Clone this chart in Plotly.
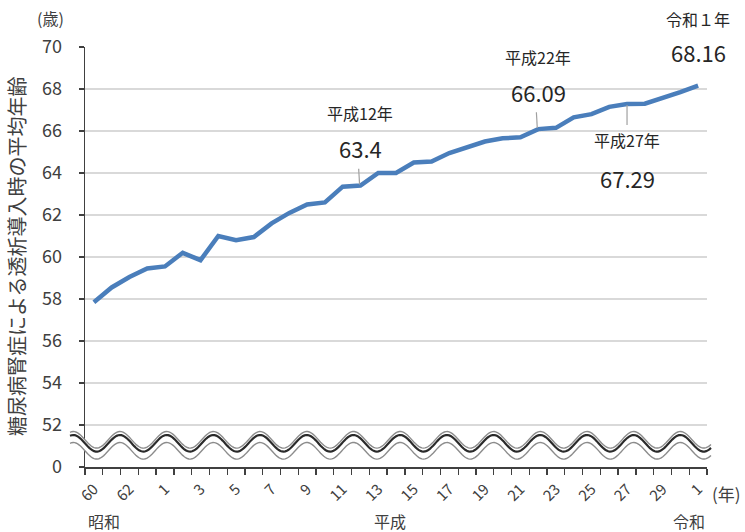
import numpy as np
import plotly.graph_objects as go

# ---- data ----
years = ["60", "61", "62", "63"] + [str(i) for i in range(1, 31)] + ["1"]
ages = [57.85, 58.55, 59.05, 59.45, 59.55, 60.2, 59.85, 61.0, 60.8, 60.95,
        61.6, 62.1, 62.5, 62.6, 63.35, 63.4, 64.0, 64.0, 64.5, 64.55,
        64.95, 65.25, 65.5, 65.65, 65.7, 66.09, 66.15, 66.65, 66.8, 67.15,
        67.29, 67.3, 67.55, 67.85, 68.16]
tick_idx = list(range(0, 35, 2))
tick_labels = [years[i] for i in tick_idx]
y_ticks = [50, 52, 54, 56, 58, 60, 62, 64, 66, 68, 70]
y_ticktext = ["0"] + [str(v) for v in y_ticks[1:]]
callouts = [  # (index, era label, value text)
    (15, "平成12年", "63.4"),
    (25, "平成22年", "66.09"),
    (30, "平成27年", "67.29"),
    (34, "令和１年", "68.16"),
]
eras = [("昭和", 104), ("平成", 390), ("令和", 689)]

W, H = 745, 532
OFF = 0  # body margin removed by post_script
PL, PT, PR, PB = 85, 47, 707, 467  # plot area in page pixels
L, T = PL - OFF, PT - OFF
R, B = W - (PR - OFF), H - (PB - OFF)
PW, PH = PR - PL, PB - PT
FONT = "Noto Sans CJK JP"
TXT = "#404040"

fig = go.Figure()
fig.add_trace(go.Scatter(
    x=list(range(len(ages))), y=ages, mode="lines",
    line=dict(color="#4A7EBB", width=4.5), hoverinfo="skip", showlegend=False))

def px2paper(px, py):
    return (px - PL) / PW, (PB - py) / PH

# ---- axis-break wave (decoration) ----
xs = np.linspace(70, 711, 400)
period = 46.7
def wave(offset):
    pys = 443.3 + offset - 8.3 * np.cos(2 * np.pi * (xs - 120) / period)
    return [px2paper(a, b) for a, b in zip(xs, pys)]

def path_of(pts):
    return "M " + " L ".join(f"{a:.5f},{b:.5f}" for a, b in pts)

top = wave(-3.5)
bot = wave(7.5)
fill_path = path_of(top + bot[::-1]) + " Z"
shapes = [
    dict(type="path", xref="paper", yref="paper", path=fill_path,
         fillcolor="white", line=dict(width=0), layer="above"),
    dict(type="path", xref="paper", yref="paper", path=path_of(top),
         line=dict(color="#8c8c8c", width=1.4), layer="above"),
    dict(type="path", xref="paper", yref="paper", path=path_of(wave(0)),
         line=dict(color="#2b2b2b", width=2.2), layer="above"),
    dict(type="path", xref="paper", yref="paper", path=path_of(bot),
         line=dict(color="#8c8c8c", width=1.4), layer="above"),
]

annotations = []
def ann(idx, yv, text, shift, size):
    return dict(x=idx, y=yv, xref="x", yref="y", text=text, showarrow=False,
                yshift=shift, font=dict(size=size, color="#262626", family=FONT))

for idx, lab, val in callouts:
    yv = ages[idx]
    if idx == 34:
        annotations += [ann(idx, yv, lab, 67, 16), ann(idx, yv, val, 34, 22)]
    elif idx == 30:
        shapes.append(dict(type="line", xref="x", yref="y", x0=idx, x1=idx,
                           y0=yv - 0.05, y1=yv - 1.0, line=dict(color="#a0a0a0", width=1.2)))
        annotations += [ann(idx, yv, lab, -36, 16), ann(idx, yv, val, -74, 22)]
    elif idx == 15:
        shapes.append(dict(type="line", xref="x", yref="y", x0=idx - 0.05, x1=idx - 0.1,
                           y0=yv + 0.05, y1=yv + 0.8, line=dict(color="#a0a0a0", width=1.2)))
        annotations += [ann(idx, yv, lab, 73, 16), ann(idx, yv, val, 38, 22)]
    else:
        shapes.append(dict(type="line", xref="x", yref="y", x0=idx - 0.05, x1=idx - 0.1,
                           y0=yv + 0.05, y1=yv + 0.8, line=dict(color="#a0a0a0", width=1.2)))
        annotations += [ann(idx, yv, lab, 72, 16), ann(idx, yv, val, 37, 22)]

def pann(px, py, text, size, angle=0):
    x, y = px2paper(px, py)
    return dict(x=x, y=y, xref="paper", yref="paper", text=text, showarrow=False,
                xanchor="center", yanchor="middle", textangle=angle,
                font=dict(size=size, color=TXT, family=FONT))

for txt, xp in eras:
    annotations.append(pann(xp, 521, txt, 16))
annotations.append(pann(727, 493, "(年)", 17))
annotations.append(pann(50, 18, "(歳)", 16))
annotations.append(pann(16, 257, "糖尿病腎症による透析導入時の平均年齢", 20, -90))

fig.update_layout(
    width=W, height=H, margin=dict(l=L, r=R, t=T, b=B, autoexpand=False),
    paper_bgcolor="white", plot_bgcolor="white",
    font=dict(family=FONT, color=TXT),
    shapes=shapes, annotations=annotations, showlegend=False,
    xaxis=dict(range=[-0.5, 34.5], tickmode="array", tickvals=tick_idx,
               ticktext=tick_labels, tickangle=-45, ticks="", showgrid=False,
               showline=True, linecolor="#404040", linewidth=1.5, automargin=False,
               tickfont=dict(size=15, color=TXT, family=FONT), ticklabelstandoff=6,
               minor=dict(tickmode="linear", tick0=-0.5, dtick=1, ticks="outside",
                          ticklen=6, tickcolor="#404040", tickwidth=1.3, showgrid=False),
               zeroline=False, fixedrange=True),
    yaxis=dict(range=[50, 70], tickmode="array", tickvals=y_ticks, ticktext=y_ticktext,
               ticks="outside", ticklen=5, tickcolor="#404040", tickwidth=1.3,
               showline=True, linecolor="#404040", linewidth=1.5, automargin=False,
               showgrid=True, gridcolor="#d9d9d9", gridwidth=1.2, ticklabelstandoff=13,
               tickfont=dict(size=18, color=TXT, family=FONT), zeroline=False,
               fixedrange=True),
)

fig.write_html("out.html", config={"displayModeBar": False, "staticPlot": True},
               post_script="document.body.style.margin='0';document.body.style.overflow='hidden';")
